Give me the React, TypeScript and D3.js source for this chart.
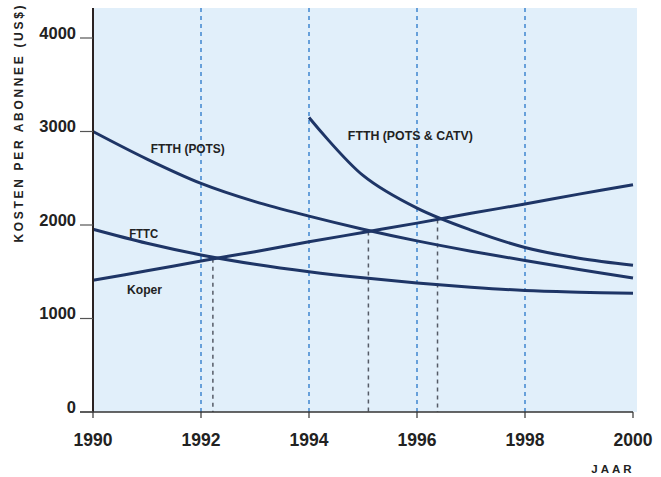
import React from "react";
import * as d3 from "d3";

const years = [1990, 1991, 1992, 1993, 1994, 1995, 1996, 1997, 1998, 1999, 2000];
const koper = [1410, 1510, 1615, 1715, 1820, 1920, 2020, 2125, 2225, 2330, 2430];
const fttc = [1955, 1805, 1680, 1580, 1500, 1435, 1380, 1335, 1300, 1282, 1270];
const ftthPots = [3000, 2705, 2445, 2250, 2095, 1955, 1830, 1720, 1620, 1525, 1433];
const catvYears = [1994, 1995, 1996, 1997, 1998, 1999, 2000];
const ftthCatv = [3150, 2530, 2180, 1945, 1760, 1645, 1570];

const yTicks = [0, 1000, 2000, 3000, 4000];
const xTicks = [1990, 1992, 1994, 1996, 1998, 2000];
const gridYears = [1992, 1994, 1996, 1998];
const dropLines = [
  { year: 1992.22, value: 1640 },
  { year: 1995.1, value: 1930 },
  { year: 1996.38, value: 2060 },
];

const labels = [
  { text: "FTTH (POTS)", year: 1991.07, value: 2770, len: 74 },
  { text: "FTTC", year: 1990.67, value: 1860, len: 29 },
  { text: "Koper", year: 1990.63, value: 1260, len: 35 },
  { text: "FTTH (POTS & CATV)", year: 1994.72, value: 2910, len: 125 },
];

export default function App() {
  const W = 661, H = 477;
  const x = d3.scaleLinear().domain([1990, 2000]).range([93, 633]);
  const y = d3.scaleLinear().domain([0, 4000]).range([412, 38]);
  const line = d3
    .line<[number, number]>()
    .x((d) => x(d[0]))
    .y((d) => y(d[1]))
    .curve(d3.curveCatmullRom.alpha(0.5));
  const zip = (xs: number[], vs: number[]) => xs.map((v, i) => [v, vs[i]] as [number, number]);
  const navy = "#1e3566";
  const font = "'Liberation Sans', Arial, sans-serif";

  return (
    <svg width={W} height={H} style={{ position: "absolute", left: 0, top: 0 }}>
      <rect x={0} y={0} width={W} height={H} fill="#ffffff" />
      <rect x={x(1990)} y={8} width={x(2000) + 4 - x(1990)} height={y(0) - 8} fill="#e1effa" />
      {gridYears.map((g) => (
        <line key={g} x1={x(g)} x2={x(g)} y1={8} y2={y(0)} stroke="#3f86cf" strokeWidth={1.5} strokeDasharray="4,4" />
      ))}
      {dropLines.map((d) => (
        <line key={d.year} x1={x(d.year)} x2={x(d.year)} y1={y(d.value)} y2={y(0)} stroke="#555b66" strokeWidth={1.5} strokeDasharray="4,4" />
      ))}
      <path d={line(zip(years, koper)) || ""} fill="none" stroke={navy} strokeWidth={3} />
      <path d={line(zip(years, fttc)) || ""} fill="none" stroke={navy} strokeWidth={3} />
      <path d={line(zip(years, ftthPots)) || ""} fill="none" stroke={navy} strokeWidth={3} />
      <path d={line(zip(catvYears, ftthCatv)) || ""} fill="none" stroke={navy} strokeWidth={3} />
      {labels.map((l) => (
        <text
          key={l.text}
          x={x(l.year)}
          y={y(l.value)}
          fontFamily={font}
          fontWeight="bold"
          fontSize={12}
          fill="#222"
          textLength={l.len}
          lengthAdjust="spacingAndGlyphs"
        >
          {l.text}
        </text>
      ))}
      {/* axes */}
      <line x1={x(1990)} x2={x(1990)} y1={8} y2={y(0)} stroke="#2a2222" strokeWidth={2} />
      <line x1={80} x2={x(2000)} y1={y(0)} y2={y(0)} stroke="#333" strokeWidth={1.5} />
      {yTicks.map((t) => (
        <g key={t}>
          <line x1={80} x2={x(1990)} y1={y(t)} y2={y(t)} stroke="#555" strokeWidth={1.2} />
          <text x={76} y={y(t)} dy="0.05em" textAnchor="end" fontFamily={font} fontWeight="bold" fontSize={16.5} fill="#222">
            {t}
          </text>
        </g>
      ))}
      {xTicks.map((t) => (
        <g key={t}>
          <line x1={x(t)} x2={x(t)} y1={y(0)} y2={y(0) + 6} stroke="#333" strokeWidth={1.2} />
          <text x={x(t)} y={446} textAnchor="middle" fontFamily={font} fontWeight="bold" fontSize={17.5} fill="#222">
            {t}
          </text>
        </g>
      ))}
      <text x={613} y={473} textAnchor="middle" fontFamily={font} fontWeight="bold" fontSize={11.5} letterSpacing={3} fill="#222">
        JAAR
      </text>
      <text
        transform={`translate(23,124) rotate(-90)`}
        textAnchor="middle"
        fontFamily={font}
        fontWeight="bold"
        fontSize={12}
        fill="#222"
        textLength={237}
        lengthAdjust="spacing"
      >
        KOSTEN PER ABONNEE (US$)
      </text>
    </svg>
  );
}
